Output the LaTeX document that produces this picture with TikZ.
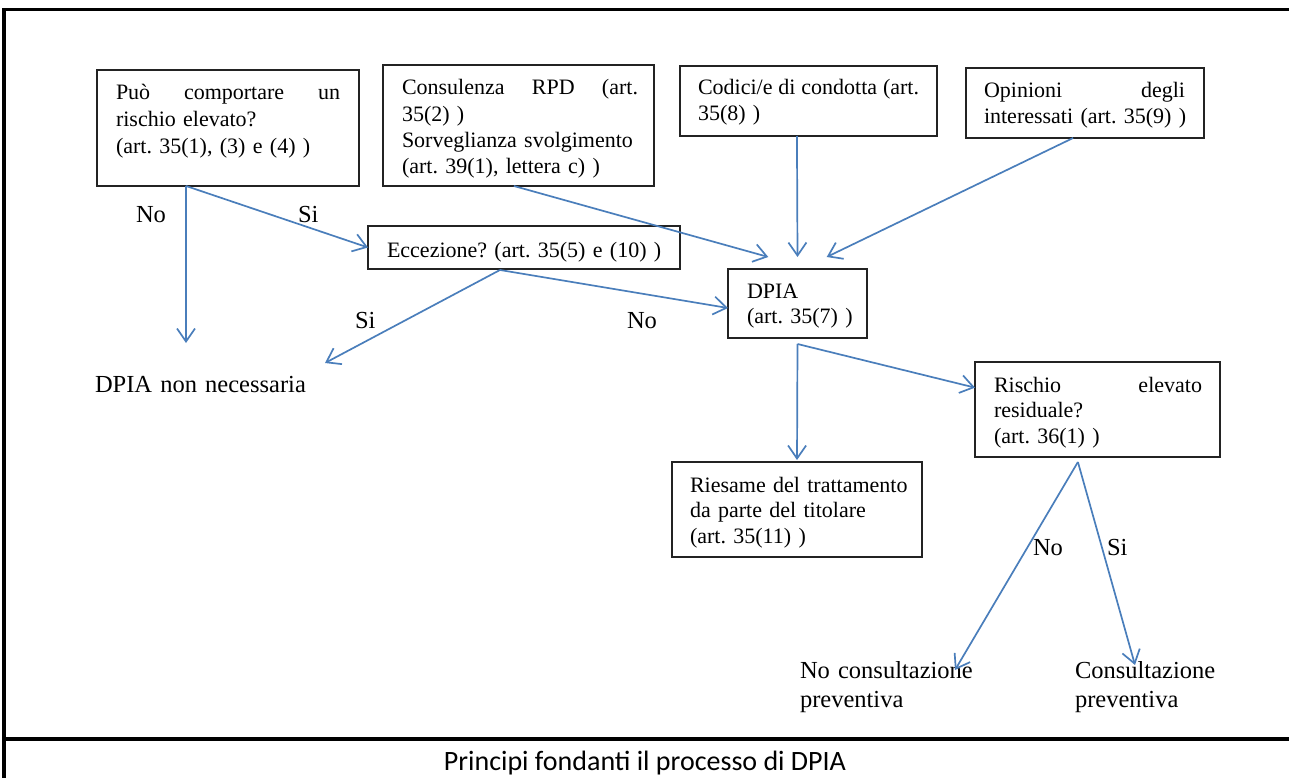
\documentclass[tikz,border=0pt]{standalone}
\usepackage{fontspec}
\setmainfont{Liberation Serif}
\newfontfamily\capfont{Carlito}
\usetikzlibrary{arrows.meta,calc}
\definecolor{arrblue}{RGB}{74,126,187}
\definecolor{boxline}{RGB}{35,35,35}
\begin{document}
\frenchspacing
\begin{tikzpicture}[x=1pt,y=-1pt,
  boxframe/.style={draw=boxline, line width=1.2pt, outer sep=0pt, inner sep=0pt},
  bt/.style={anchor=base west, inner sep=0pt, outer sep=0pt, align=left, font=\fontsize{22}{25.5}\selectfont},
  lbl/.style={anchor=base west, inner sep=0pt, outer sep=0pt, align=left, font=\fontsize{24.5}{29.5}\selectfont},
  arr/.style={draw=arrblue, line width=1.7pt, -{Straight Barb[length=13pt,width=18pt,line width=1.7pt]}},
  frameline/.style={draw=black, line width=3.3pt}]
\useasboundingbox (0,0) rectangle (1289,778);
% outer frame
\draw[frameline, line join=miter] (4,790) -- (4,9.5) -- (1300,9.5);
\draw[frameline] (4,739) -- (1300,739);

% boxes
\node[boxframe, minimum width=262pt, minimum height=116pt] (b1) at (228,128) {};
\node[boxframe, minimum width=271pt, minimum height=121pt] (b2) at (518.5,125.5) {};
\node[boxframe, minimum width=257pt, minimum height=70pt] (b3) at (808.5,101) {};
\node[boxframe, minimum width=238pt, minimum height=70pt] (b4) at (1085,103) {};
\node[boxframe, minimum width=312pt, minimum height=43pt] (ecc) at (524,247.5) {};
\node[boxframe, minimum width=139pt, minimum height=69pt] (dpia) at (797.5,303.5) {};
\node[boxframe, minimum width=245pt, minimum height=95pt] (risk) at (1097.5,409.5) {};
\node[boxframe, minimum width=250pt, minimum height=95pt] (ries) at (797,509.5) {};

% box texts
\node[bt, text width=224pt, font=\fontsize{22}{27}\selectfont] (b1t) at (116,100) {Può\hfill comportare\hfill un\\\mbox{rischio elevato?}\\\mbox{(art. 35(1), (3) e (4) )}};
\node[bt, text width=236pt, font=\fontsize{22}{26.3}\selectfont] (b2t) at (402,95) {Consulenza\hfill RPD\hfill (art.\\35(2) )\\\mbox{Sorveglianza svolgimento}\\\mbox{(art. 39(1), lettera c) )}};
\node[bt, text width=221pt, font=\fontsize{22}{26}\selectfont] (b3t) at (698,95) {Codici/e\hfill di\hfill condotta\hfill (art.\\35(8) )};
\node[bt, text width=201pt] (b4t) at (984,98) {Opinioni\hfill degli\\\mbox{interessati (art. 35(9) )}};
\node[bt, text width=290pt] (ecct) at (387,257) {\mbox{Eccezione? (art. 35(5) e (10) )}};
\node[bt, text width=110pt] (dpiat) at (747,298) {DPIA\\\mbox{(art. 35(7) )}};
\node[bt, text width=208pt] (riskt) at (994,392) {Rischio\hfill elevato\\residuale?\\\mbox{(art. 36(1) )}};
\node[bt, text width=225pt] (riest) at (690,492) {\mbox{Riesame del trattamento}\\\mbox{da parte del titolare}\\\mbox{(art. 35(11) )}};

% free texts
\node[lbl, text width=240pt] (nonnec) at (95,392) {\mbox{DPIA non necessaria}};
\node[lbl, text width=200pt] (nocons) at (800,678) {\mbox{No consultazione}\\preventiva};
\node[lbl, text width=180pt] (cons) at (1075,678) {Consultazione\\preventiva};

% connector end points
\coordinate (s1) at ($(b1.south west)!0.34!(b1.south east)$);
\coordinate (s2) at ($(b2.south west)!0.483!(b2.south east)$);
\coordinate (s3) at ($(b3.south west)!0.455!(b3.south east)$);
\coordinate (s4) at ($(b4.south west)!0.45!(b4.south east)$);
\coordinate (se) at ($(ecc.south west)!0.423!(ecc.south east)+(0,1)$);
\coordinate (sd) at ($(dpia.south)+(0,6)$);
\coordinate (sr) at ($(risk.south west)!0.42!(risk.south east)+(0,5)$);
\coordinate (e2) at ($(dpia.north west)!0.29!(dpia.north east)+(0,-12)$);
\coordinate (e3) at ($(dpia.north)+(0,-12)$);
\coordinate (e4) at ($(dpia.north west)!0.71!(dpia.north east)+(0,-12)$);
\coordinate (e7) at ($(dpia.west)+(0,4.5)$);
\coordinate (e8) at ($(ries.north)+(0,-2)$);
\coordinate (e9) at ($(risk.north west)!0.27!(risk.south west)$);
\coordinate (t1) at ($(nonnec.base west)+(91,-49)$);
\coordinate (t6) at ($(nonnec.base west)+(230,-29)$);
\coordinate (t10) at ($(nocons.base west)+(155,-8)$);
\coordinate (t11) at ($(cons.base west)+(60,-13)$);

% connectors
\draw[arr] (s1) -- (t1);
\draw[arr] (s1) -- (ecc.west);
\draw[arr] (s2) -- (e2);
\draw[arr] (s3) -- (e3);
\draw[arr] (s4) -- (e4);
\draw[arr] (se) -- (t6);
\draw[arr] (se) -- (e7);
\draw[arr] (sd) -- (e8);
\draw[arr] (sd) -- (e9);
\draw[arr] (sr) -- (t10);
\draw[arr] (sr) -- (t11);

% labels
\node[lbl] (l1) at (136,222) {No};
\node[lbl] (l2) at (298,222) {Si};
\node[lbl] (l3) at (355,328) {Si};
\node[lbl] (l4) at (627,328) {No};
\node[lbl] (l5) at (1033,555) {No};
\node[lbl] (l6) at (1107,555) {Si};

% caption
\node[anchor=base, inner sep=0pt, font=\capfont\fontsize{28}{34}\selectfont] (cap) at (645,770) {Principi fondanti il processo di DPIA};
\end{tikzpicture}
\end{document}
